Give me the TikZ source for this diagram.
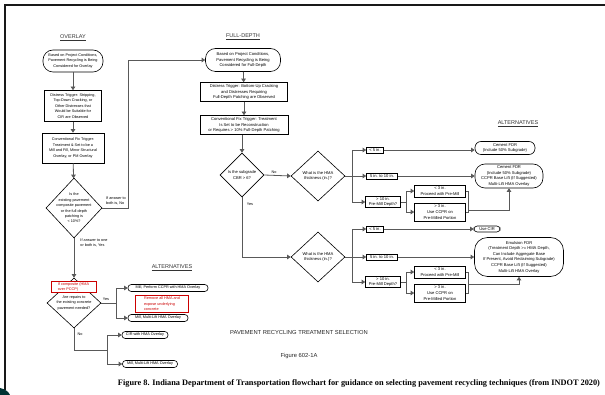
\documentclass[tikz,border=0pt]{standalone}
\usepackage{fontspec}
\setmainfont{Liberation Sans}
\newfontfamily\capfont{Liberation Serif}
\usetikzlibrary{shapes.geometric,arrows.meta}
\begin{document}
\begin{tikzpicture}[x=1pt,y=-1pt,
  txt/.style={font=\fontsize{3.8}{5.4}\selectfont, align=center, inner sep=0.6pt},
  txtr/.style={font=\fontsize{4.1}{5.6}\selectfont, align=center, inner sep=0.6pt},
  proc/.style={draw=black, line width=0.6pt, fill=white},
  term/.style={draw=black, line width=0.6pt, fill=white, rounded corners=3.2pt},
  dia/.style={draw=black, diamond, line width=0.6pt, inner sep=0pt, fill=white},
  redbox/.style={txt, draw=red!80!black, text=red!80!black, align=left, line width=0.5pt, fill=white},
  conn/.style={draw=black!65, line width=0.8pt},
  arr/.style={conn, -{Triangle[length=3.6pt,width=4.6pt]}},
  ttl/.style={font=\fontsize{5.5}{6}\selectfont, text=black!80},
  lbl/.style={font=\fontsize{3.8}{5}\selectfont, align=left, inner sep=0pt}
]
\useasboundingbox (0,0) rectangle (605,395);
\fill[white] (0,0) rectangle (605,395);
% frame
\draw[line width=1.8pt, black!90] (5,390) -- (5,5) -- (605,5);
\fill[black!60!teal] (0,388) .. controls (5,389) and (9,392) .. (10,395) -- (0,395) -- cycle;

% ---------------- OVERLAY column
\node[ttl] (tov) at (73,38) {\underline{OVERLAY}};
\node[term, txt, rounded corners=10pt, minimum width=60pt, minimum height=22pt] (t1) at (73,61)
  {Based on Project Conditions,\\Pavement Recycling is Being\\Considered for Overlay};
\node[proc, txt, minimum width=57pt, minimum height=31pt] (b1) at (73,106)
  {Distress Trigger: Stripping,\\Top-Down Cracking, or\\Other Distresses that\\Would be Suitable for\\CIR are Observed};
\node[proc, txt, minimum width=62pt, minimum height=30pt] (b2) at (73,148)
  {Conventional Fix Trigger:\\Treatment \& Set to be a\\Mill and Fill, Minor Structural\\Overlay, or PM Overlay};
\node[dia, minimum width=56pt, minimum height=60pt] (d1) at (74,208) {};
\node[txt] (d1t) at (d1) {Is the\\existing pavement\\composite pavement\\or the full depth\\patching is\\< 10\%?};
\node[dia, minimum width=54pt, minimum height=50pt] (d2) at (74,303) {};
\node[txt] (d2t) at (74,303) {Are repairs to\\the existing concrete\\pavement needed?};
\node[redbox, minimum width=45pt, minimum height=11pt] (r1) at (73.5,287) {If composite (HMA\\over PCCP)};

\draw[arr] (t1) -- (b1);
\draw[arr] (b1) -- (b2);
\draw[arr] (b2) -- (d1);
\coordinate (c1) at (128,208);
\coordinate (c2) at (128,60);
\draw[conn] (d1.east) -- (c1) -- (c2);
\node[lbl] (lno1) at (116,201) {If answer to\\both is, No};
\node[lbl] (lyes1) at (94,243) {If answer to one\\or both is, Yes};
\draw[arr] (d1.south) -- (d2.north);

% left alternatives
\node[ttl] (talt1) at (172,268) {\underline{ALTERNATIVES}};
\node[term, txt, inner sep=0.8pt, minimum width=80pt, minimum height=7pt] (a1) at (168,288) {Mill, Perform CCPR with HMA Overlay};
\node[redbox, minimum width=53pt, minimum height=17pt] (r2) at (162,304) {Remove all HMA and\\expose underlying\\concrete};
\node[term, txt, inner sep=0.8pt, minimum width=60pt, minimum height=7pt] (a2) at (158,318) {Mill, Multi-Lift HMA Overlay};
\coordinate (y1) at (116,303);
\draw[conn] (d2.east) -- (y1);
\draw[arr] (y1) |- (a1.west);
\draw[arr] (y1) |- (a2.west);
\node[lbl] (lyes2) at (106,299) {Yes};

\node[term, txt, inner sep=0.8pt, minimum width=46pt, minimum height=7pt] (a3) at (145,335) {CIR with HMA Overlay};
\node[term, txt, inner sep=0.8pt, minimum width=55pt, minimum height=7pt] (a4) at (150,364) {Mill, Multi-Lift HMA Overlay};
\coordinate (n1) at (74,350);
\coordinate (n2) at (107,350);
\draw[conn] (d2.south) -- (n1) -- (n2);
\draw[arr] (n2) |- (a3.west);
\draw[arr] (n2) |- (a4.west);
\node[lbl] (lno2) at (80,334) {No};

% ---------------- FULL-DEPTH column
\node[ttl] (tfd) at (243,37) {\underline{FULL-DEPTH}};
\node[term, txtr, rounded corners=10pt, minimum width=75pt, minimum height=23pt] (t2) at (243,60)
  {Based on Project Conditions,\\Pavement Recycling is Being\\Considered for Full-Depth};
\draw[arr] (c2) -- (t2.west);
\node[proc, txtr, minimum width=87pt, minimum height=19pt] (b3) at (244,92)
  {Distress Trigger: Bottom-Up Cracking\\and Distresses Requiring\\Full-Depth Patching are Observed};
\node[proc, txtr, minimum width=88pt, minimum height=19pt] (b4) at (244,125)
  {Conventional Fix Trigger: Treatment\\Is Set to be Reconstruction\\or Requires > 10\% Full-Depth Patching};
\draw[arr] (t2) -- (b3);
\draw[arr] (b3) -- (b4);
\node[dia, minimum width=44pt, minimum height=44pt] (d3) at (242,175) {};
\node[txtr] at (d3) {Is the subgrade\\CBR > 6?};
\draw[arr] (b4.south -| d3.north) -- (d3.north);

\node[dia, minimum width=54pt, minimum height=50pt] (d4) at (318,176) {};
\node[txtr] at (d4) {What is the HMA\\thickness (in.)?};
\node[dia, minimum width=54pt, minimum height=50pt] (d5) at (318,257) {};
\node[txtr] at (d5) {What is the HMA\\thickness (in.)?};
\draw[arr] (d3.east) -- (d4.west);
\node[lbl] (lno3) at (274,172) {No};
\coordinate (yy) at (242,257);
\draw[conn] (d3.south) -- (yy);
\draw[arr] (yy) -- (d5.west);
\node[lbl] (lyes3) at (250,204) {Yes};

% ---------------- right: upper
\node[ttl] (talt2) at (518,124) {\underline{ALTERNATIVES}};
\coordinate (k1) at (352,176);
\draw[conn] (d4.east) -- (k1);
\node[proc, txtr, minimum width=17pt, minimum height=6pt, inner sep=0.4pt] (s1) at (375,150) {< 5 in.};
\node[proc, txtr, minimum width=31pt, minimum height=6pt, inner sep=0.4pt] (s2) at (382,176) {5 in. to 10 in.};
\node[proc, txtr, minimum width=35pt, minimum height=11pt, inner sep=0.4pt] (s3) at (383,202) {> 10 in.\\Pre-Mill Depth?};
\draw[arr] (k1) |- (s1.west);
\draw[arr] (k1) -- (s2.west);
\draw[arr] (k1) |- (s3.west);
\node[term, txtr, rounded corners=6pt, minimum width=60pt, minimum height=13pt] (e1) at (505,148) {Cement FDR\\(Include 50\% Subgrade)};
\node[term, txtr, rounded corners=10pt, minimum width=68pt, minimum height=24pt] (e2) at (509,176) {Cement FDR\\(Include 50\% Subgrade)\\CCPR Base Lift (If Suggested)\\Multi-Lift HMA Overlay};
\draw[arr] (s1.east) -- (s1.east -| e1.west);
\draw[arr] (s2.east) -- (e2.west);
\coordinate (k2) at (406,202);
\draw[conn] (s3.east) -- (k2);
\node[proc, txtr, minimum width=51pt, minimum height=12pt, inner sep=0.4pt] (p1) at (440,191) {< 3 in.\\Proceed with Pre-Mill};
\node[proc, txtr, minimum width=51pt, minimum height=18pt, inner sep=0.4pt] (p2) at (440,212) {> 3 in.\\Use CCPR on\\Pre-Milled Portion};
\draw[arr] (k2) |- (p1.west);
\draw[arr] (k2) |- (p2.west);
\coordinate (j1) at (468,210);
\draw[conn] (p1.east) -| (j1);
\draw[conn] (p2.east) -| (j1);
\draw[arr] (j1) -| (e2.south);

% ---------------- right: lower
\coordinate (k3) at (352,257);
\draw[conn] (d5.east) -- (k3);
\node[proc, txtr, minimum width=17pt, minimum height=6pt, inner sep=0.4pt] (s4) at (375,229) {< 5 in.};
\node[proc, txtr, minimum width=31pt, minimum height=6pt, inner sep=0.4pt] (s5) at (382,257) {5 in. to 10 in.};
\node[proc, txtr, minimum width=35pt, minimum height=11pt, inner sep=0.4pt] (s6) at (383,282) {> 10 in.\\Pre-Mill Depth?};
\draw[arr] (k3) |- (s4.west);
\draw[arr] (k3) -- (s5.west);
\draw[arr] (k3) |- (s6.west);
\node[term, txtr, inner sep=0.8pt, minimum width=26pt, minimum height=6pt] (e3) at (487,229) {Use CIR};
\node[term, txtr, rounded corners=13pt, minimum width=89pt, minimum height=39pt] (e4) at (519,257)
  {Emulsion FDR\\(Treatment Depth >= HMA Depth,\\Can Include Aggregate Base\\If Present, Avoid Reclaiming Subgrade)\\CCPR Base Lift (If Suggested)\\Multi-Lift HMA Overlay};
\draw[arr] (s4.east) -- (s4.east -| e3.west);
\draw[arr] (s5.east) -- (e4.west);
\coordinate (k4) at (406,282);
\draw[conn] (s6.east) -- (k4);
\node[proc, txtr, minimum width=51pt, minimum height=12pt, inner sep=0.4pt] (p3) at (440,272) {< 3 in.\\Proceed with Pre-Mill};
\node[proc, txtr, minimum width=51pt, minimum height=18pt, inner sep=0.4pt] (p4) at (440,293) {> 3 in.\\Use CCPR on\\Pre-Milled Portion};
\draw[arr] (k4) |- (p3.west);
\draw[arr] (k4) |- (p4.west);
\coordinate (j2) at (468,284);
\draw[conn] (p3.east) -| (j2);
\draw[conn] (p4.east) -| (j2);
\draw[arr] (j2) -| (e4.south);

% ---------------- bottom texts
\node[font=\fontsize{5.8}{6.5}\selectfont, text=black!85] (ttitle) at (299,333) {PAVEMENT RECYCLING TREATMENT SELECTION};
\node[font=\fontsize{5.8}{6.5}\selectfont, text=black!85] (tfig) at (299,356) {Figure 602-1A};
\node[inner sep=0pt] (cap) at (359,383) {\resizebox{482pt}{!}{\capfont\bfseries Figure 8. Indiana Department of Transportation flowchart for guidance on selecting pavement recycling techniques (from INDOT 2020)}};
\end{tikzpicture}
\end{document}
